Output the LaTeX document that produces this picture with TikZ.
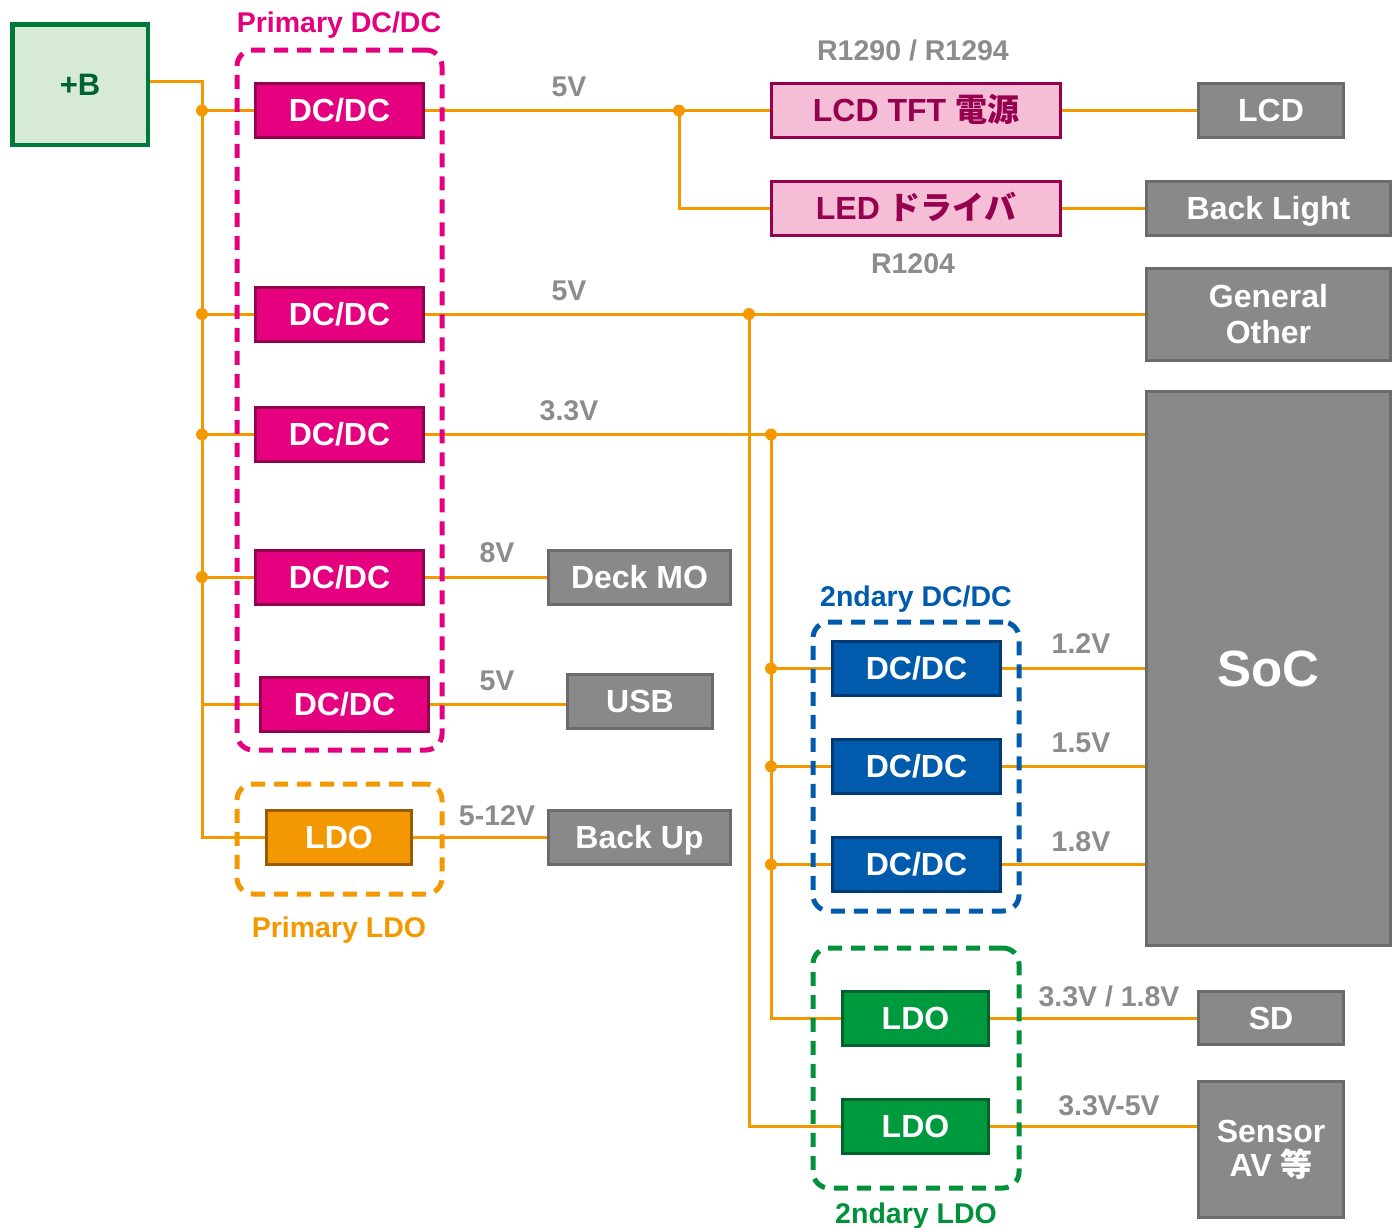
\documentclass[tikz,border=0pt]{standalone}
\usepackage{fontspec}
\setmainfont{Liberation Sans}
\newfontfamily\jp{Noto Sans CJK JP}
\pgfdeclarelayer{wires}
\pgfdeclarelayer{frames}
\pgfsetlayers{wires,frames,main}
\definecolor{wire}{HTML}{F39800}
\definecolor{mag}{HTML}{E4007F}
\definecolor{magd}{HTML}{95004F}
\definecolor{pinkf}{HTML}{F5BDD6}
\definecolor{grayf}{HTML}{898989}
\definecolor{grayd}{HTML}{6B6B6B}
\definecolor{labg}{HTML}{8C8C8C}
\definecolor{bluef}{HTML}{005BAC}
\definecolor{blued}{HTML}{003A73}
\definecolor{greenf}{HTML}{009A3E}
\definecolor{greend}{HTML}{00622C}
\definecolor{orgd}{HTML}{9A5A00}
\definecolor{bfill}{HTML}{D6EAD6}
\definecolor{bdraw}{HTML}{007A3A}
\definecolor{btext}{HTML}{00632F}
\definecolor{grlab}{HTML}{00913A}
\tikzset{
  sz/.style 2 args={minimum width=#1pt, minimum height=#2pt},
  blk/.style={rectangle, line width=3pt, inner sep=0pt, text=white,
    font=\bfseries\fontsize{32}{34}\selectfont},
  captxt/.style={text height=22.9pt, text depth=0pt},
  magblk/.style={blk, captxt, fill=mag, draw=magd, sz={168}{54}},
  pinkblk/.style={blk, captxt, fill=pinkf, draw=magd, text=magd, sz={289}{54}},
  grayblk/.style={blk, fill=grayf, draw=grayd},
  blueblk/.style={blk, captxt, fill=bluef, draw=blued, sz={168}{54}},
  greenblk/.style={blk, captxt, fill=greenf, draw=greend, sz={146}{54}},
  orgblk/.style={blk, captxt, fill=wire, draw=orgd, sz={145}{54}},
  vlab/.style={inner sep=0pt, text height=20.4pt, text depth=0pt, text=labg,
    font=\bfseries\fontsize{28.5}{30}\selectfont},
  ttl/.style={vlab, text=#1},
  frame/.style={rectangle, draw=#1, line width=5pt, dash pattern=on 14pt off 9pt,
    rounded corners=16pt, inner sep=0pt},
  wireline/.style={draw=wire, line width=3pt},
}
\begin{document}
\begin{tikzpicture}[x=1pt,y=-1pt]
\useasboundingbox (0,0) rectangle (1400,1227);
% source
\node[rectangle, line width=4.5pt, fill=bfill, draw=bdraw, sz={135.5}{120.5}, text=btext,
  font=\bfseries\fontsize{31}{34}\selectfont, text height=22pt, text depth=0pt] (B) at (80,84.5) {+B};
% primary DC/DC
\node[magblk] (p1) at (339.5,110.5) {DC/DC};
\node[magblk] (p2) at (339.5,314) {DC/DC};
\node[magblk] (p3) at (339.5,434.5) {DC/DC};
\node[magblk] (p4) at (339.5,577) {DC/DC};
\node[magblk] (p5) at (344.5,704) {DC/DC};
\node[orgblk] (ldo) at (339,837.5) {LDO};
% pink
\node[pinkblk] (tft) at (916,110) {LCD TFT {\jp 電源}};
\node[pinkblk] (led) at (916,208.5) {LED {\jp ドライバ}};
% gray loads
\node[grayblk, captxt, sz={145}{54}] (lcd) at (1271,110) {LCD};
\node[grayblk, captxt, sz={244}{54}] (bl) at (1268.5,208.5) {Back Light};
\node[grayblk, sz={244}{92}, align=center, font=\bfseries\fontsize{32}{36}\selectfont] (gen) at (1268.5,314.5) {General\\Other};
\node[grayblk, sz={244}{554}, font=\bfseries\fontsize{51}{54}\selectfont, text height=36.5pt, text depth=0pt] (soc) at (1268.5,668.5) {SoC};
\node[grayblk, captxt, sz={182}{54}] (deck) at (639.5,577.5) {Deck MO};
\node[grayblk, captxt, sz={145}{54}] (usb) at (640,701.5) {USB};
\node[grayblk, captxt, sz={182}{54}] (bu) at (639.5,837.5) {Back Up};
\node[grayblk, captxt, sz={145}{53}] (sd) at (1271,1018) {SD};
\node[grayblk, sz={145}{136}, align=center, font=\bfseries\fontsize{32}{34}\selectfont] (sen) at (1271,1149.5) {Sensor\\AV {\jp 等}};
% secondary
\node[blueblk] (s1) at (916.5,668.5) {DC/DC};
\node[blueblk] (s2) at (916.5,766.5) {DC/DC};
\node[blueblk] (s3) at (916.5,864.5) {DC/DC};
\node[greenblk] (l1) at (915.5,1018.5) {LDO};
\node[greenblk] (l2) at (915.5,1126.5) {LDO};
% frames
\begin{pgfonlayer}{frames}
\node[frame=mag, sz={205}{700}] (gp) at (339.5,400) {};
\node[frame=wire, sz={205}{110}] (gl) at (339.5,839) {};
\node[frame=bluef, sz={206}{289}] (gs) at (916,766.5) {};
\node[frame=grlab, sz={206}{240}] (gsl) at (916,1068) {};
\end{pgfonlayer}
% titles
\node[ttl=mag] (tp) at (339,22) {Primary DC/DC};
\node[ttl=wire] (tl) at (339,927) {Primary LDO};
\node[ttl=bluef] (ts) at (916,596) {2ndary DC/DC};
\node[ttl=grlab] (tsl) at (916,1213) {2ndary LDO};
% labels
\node[vlab] (v1) at (569,86) {5V};
\node[vlab] (v2) at (569,290) {5V};
\node[vlab] (v3) at (569,410) {3.3V};
\node[vlab] (v4) at (497,552) {8V};
\node[vlab] (v5) at (497,680) {5V};
\node[vlab] (v6) at (497,815) {5-12V};
\node[vlab] (v7) at (1081,643) {1.2V};
\node[vlab] (v8) at (1081,742) {1.5V};
\node[vlab] (v9) at (1081,841) {1.8V};
\node[vlab] (v10) at (1109,996) {3.3V / 1.8V};
\node[vlab] (v11) at (1109,1105) {3.3V-5V};
\node[vlab] (r1) at (913,50) {R1290 / R1294};
\node[vlab] (r2) at (913,263) {R1204};
% coordinates
\coordinate (bt) at (202,81);
\coordinate (j1) at (679,110.5);
\coordinate (j2) at (749,314);
\coordinate (j3) at (771,434.5);
% wires
\begin{pgfonlayer}{wires}
\draw[wireline] ([yshift=3.5pt]B.east) -- (bt) |- (ldo.west);
\foreach \n in {p1,p2,p3,p4,p5} \draw[wireline] (\n.west -| bt) -- (\n.west);
\draw[wireline] (p1.east) -- (p1.east -| tft.west);
\draw[wireline] (j1) |- (led.west);
\draw[wireline] (tft.east) -- (tft.east -| lcd.west);
\draw[wireline] (led.east) -- (led.east -| bl.west);
\draw[wireline] (p2.east) -- (p2.east -| gen.west);
\draw[wireline] (j2) |- (l2.west);
\draw[wireline] (p3.east) -- (p3.east -| soc.west);
\draw[wireline] (j3) |- (l1.west);
\foreach \n in {s1,s2,s3} {
  \draw[wireline] (\n.west -| j3) -- (\n.west);
  \draw[wireline] (\n.east) -- (\n.east -| soc.west);
}
\draw[wireline] (p4.east) -- (p4.east -| deck.west);
\draw[wireline] (p5.east) -- (p5.east -| usb.west);
\draw[wireline] (ldo.east) -- (ldo.east -| bu.west);
\draw[wireline] (l1.east) -- (l1.east -| sd.west);
\draw[wireline] (l2.east) -- (l2.east -| sen.west);
\end{pgfonlayer}
% junction dots
\foreach \n in {p1,p2,p3,p4} \fill[wire] (\n.west -| bt) circle (6pt);
\fill[wire] (j1) circle (6pt);
\fill[wire] (j2) circle (6pt);
\fill[wire] (j3) circle (6pt);
\foreach \n in {s1,s2,s3} \fill[wire] (\n.west -| j3) circle (6pt);
\end{tikzpicture}
\end{document}
